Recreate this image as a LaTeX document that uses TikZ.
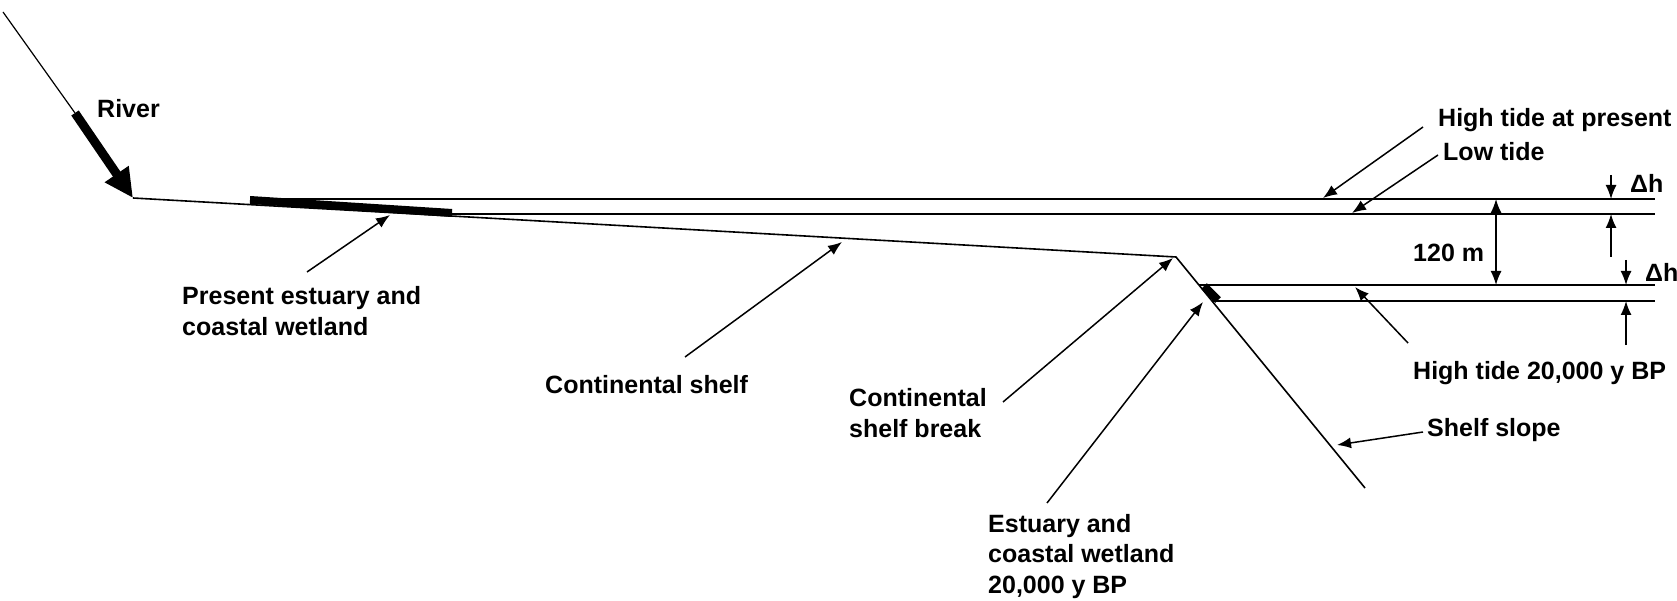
\documentclass[tikz,border=0pt]{standalone}
\usepackage{fontspec}
\setmainfont{Liberation Sans}
\usetikzlibrary{arrows.meta}
\begin{document}
\begin{tikzpicture}[x=1pt,y=-1pt,
  lbl/.style={anchor=base west,inner sep=0pt,align=left,font=\bfseries\fontsize{25}{30.5}\selectfont},
  geo/.style={line width=1.6pt},
  tide/.style={line width=2.2pt},
  ptr/.style={line width=1.5pt,-{Latex[length=14pt,width=11pt]}},
  dptr/.style={line width=1.5pt,{Latex[length=14pt,width=11pt]}-{Latex[length=14pt,width=11pt]}}]
\useasboundingbox (0,0) rectangle (1677,601);
% geometry
\coordinate (rtop) at (3,12);
\coordinate (rmid) at (75,113);
\coordinate (mouth) at (133,198);
\coordinate (brk) at (1176,257);
\coordinate (foot) at (1365,488);
\draw[line width=1.2pt] (rtop) -- (rmid);
\draw[line width=9pt,-{Triangle[length=29pt,width=27pt]}] (rmid) -- (mouth);
\draw[geo] (mouth) -- (brk) -- (foot);
% present estuary bar
\coordinate (pb1) at (250,200);
\coordinate (pb2) at (452,213);
\draw[line width=8pt] (pb1) -- (pb2);
% tide lines
\coordinate (h1a) at (250,199); \coordinate (h1b) at (1655,199);
\coordinate (l1a) at (452,214); \coordinate (l1b) at (1655,214);
\coordinate (h2a) at (1199,285); \coordinate (h2b) at (1655,285);
\coordinate (l2a) at (1212,301); \coordinate (l2b) at (1655,301);
\draw[tide] (h1a) -- (h1b);
\draw[tide] (l1a) -- (l1b);
\draw[tide] (h2a) -- (h2b);
\draw[tide] (l2a) -- (l2b);
% old estuary mark
\coordinate (ob1) at (1204,286);
\coordinate (ob2) at (1218,300);
\draw[line width=8pt] (ob1) -- (ob2);
% labels (multi-line: base = last line)
\node[lbl] (river) at (97,118) {River};
\node[lbl] (hta) at (1438,127) {High tide at present};
\node[lbl] (lt) at (1443,161) {Low tide};
\node[lbl] (dh1) at (1630,193) {Δh};
\node[lbl] (dh2) at (1645,282) {Δh};
\node[lbl] (m120) at (1413,262) {120 m};
\node[lbl] (ht20) at (1413,379) {High tide 20,000 y BP};
\node[lbl] (ss) at (1427,436) {Shelf slope};
\node[lbl] (csb) at (849,437) {Continental\\shelf break};
\node[lbl] (cs) at (545,393) {Continental shelf};
\node[lbl] (pe) at (182,335) {Present estuary and\\coastal wetland};
\node[lbl] (e20) at (988,593) {Estuary and\\coastal wetland\\20,000 y BP};
% pointer arrows
\coordinate (a1s) at (1423,127); \coordinate (a1t) at (1323,198);
\coordinate (a2s) at (1438,155); \coordinate (a2t) at (1352,213);
\coordinate (a3s) at (1408,343); \coordinate (a3t) at (1355,287);
\coordinate (a4s) at (1423,432); \coordinate (a4t) at (1337,445);
\coordinate (a5s) at (1047,503); \coordinate (a5t) at (1203,302);
\coordinate (a6s) at (1003,402); \coordinate (a6t) at (1173,258);
\coordinate (a7s) at (685,357);  \coordinate (a7t) at (842,242);
\coordinate (a8s) at (307,272);  \coordinate (a8t) at (390,215);
\draw[ptr] (a1s) -- (a1t);
\draw[ptr] (a2s) -- (a2t);
\draw[ptr] (a3s) -- (a3t);
\draw[ptr] (a4s) -- (a4t);
\draw[ptr] (a5s) -- (a5t);
\draw[ptr] (a6s) -- (a6t);
\draw[ptr] (a7s) -- (a7t);
\draw[ptr] (a8s) -- (a8t);
% dimension arrows
\coordinate (d120a) at (1496,199); \coordinate (d120b) at (1496,285);
\draw[dptr] (d120a) -- (d120b);
\coordinate (dA1) at (1611,175); \coordinate (dA2) at (1611,199);
\coordinate (dA3) at (1611,257); \coordinate (dA4) at (1611,214);
\draw[ptr] (dA1) -- (dA2);
\draw[ptr] (dA3) -- (dA4);
\coordinate (dB1) at (1626,260); \coordinate (dB2) at (1626,285);
\coordinate (dB3) at (1626,345); \coordinate (dB4) at (1626,301);
\draw[ptr] (dB1) -- (dB2);
\draw[ptr] (dB3) -- (dB4);
\end{tikzpicture}
\end{document}
